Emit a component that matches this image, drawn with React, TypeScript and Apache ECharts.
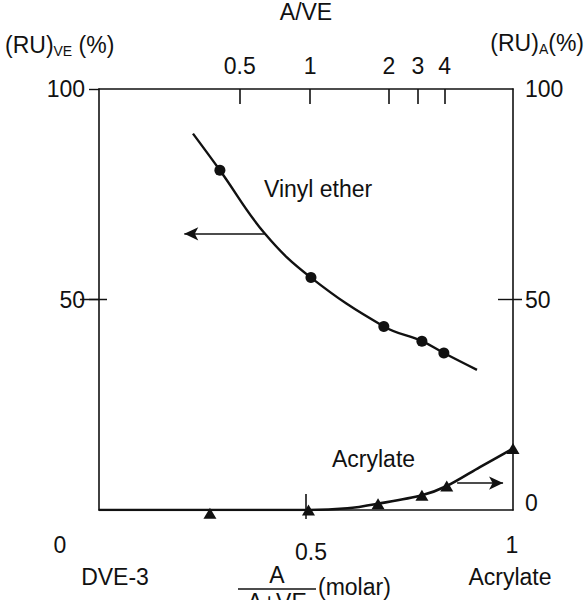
import React, { useEffect, useRef } from "react";
import * as echarts from "echarts";

// Bottom axis: A/(A+VE) molar fraction
const BOTTOM_TICKS = [0, 0.5, 1];
// Top axis: A/VE ratio ticks (positions) and labels
const TOP_TICK_POS = [0.34, 0.51, 0.7, 0.77, 0.835];
const TOP_TICK_LABELS = ["0.5", "1", "2", "3", "4"];
// Left axis (RU)VE %, right axis (RU)A %
const LEFT_TICKS = [50, 100];
const RIGHT_TICKS = [0, 50, 100];

// Vinyl ether measured points
const VE_X = [0.292, 0.512, 0.688, 0.78, 0.833];
const VE_Y = [80.7, 55.2, 43.6, 40.1, 37.3];
// Vinyl ether drawn curve
const VE_CURVE_X = [0.227, 0.292, 0.401, 0.512, 0.688, 0.78, 0.833, 0.913];
const VE_CURVE_Y = [89.4, 80.7, 65.6, 55.2, 43.6, 40.1, 37.3, 33.3];

// Acrylate measured points
const ACR_X = [0.268, 0.506, 0.674, 0.78, 0.84, 1.0];
const ACR_Y = [-0.8, 0, 1.5, 3.5, 5.7, 14.6];
// Acrylate drawn curve
const ACR_CURVE_X = [0, 0.268, 0.506, 0.6, 0.674, 0.78, 0.84, 0.92, 1.0];
const ACR_CURVE_Y = [0, 0, 0, 0.4, 1.5, 3.5, 5.7, 10.2, 14.6];

// Arrows pointing at each series' axis
const VE_ARROW = [[0.4, 65.6], [0.206, 65.6]];
const ACR_ARROW = [[0.865, 6.4], [0.976, 6.4]];

// Ticks that cross an axis: [x, y, kind] (0 bottom, 1 left, 2 right)
const CROSS_TICKS = [[0.5, 0, 0], [0, 50, 1], [1, 50, 2]];

const FONT = "'Liberation Sans', Arial, Helvetica, sans-serif";
const INK = "#111";
const FS = 23;

export default function App() {
  const ref = useRef<HTMLDivElement>(null);

  useEffect(() => {
    if (!ref.current) return;
    const chart = echarts.init(ref.current, undefined, { renderer: "svg" });

    const zip = (xs: number[], ys: number[]) => xs.map((x, i) => [x, ys[i]]);
    const txt = { fontFamily: FONT, fontSize: FS, color: INK };
    const gtxt = { fontFamily: FONT, fontSize: FS, fill: INK };

    const option: any = {
      animation: false,
      backgroundColor: "#fff",
      grid: {
        left: 99,
        right: 71,
        top: 89,
        bottom: 90,
        containLabel: false,
        outerBoundsMode: "none",
      },
      xAxis: [
        {
          type: "value",
          position: "bottom",
          min: 0,
          max: 1,
          interval: 0.5,
          axisLine: { onZero: false, lineStyle: { color: INK, width: 1.6 } },
          axisTick: { show: true, inside: true, length: 16, customValues: [0.5], lineStyle: { color: INK, width: 1.6 } },
          axisLabel: { show: false },
          splitLine: { show: false },
        },
        {
          type: "value",
          position: "top",
          min: 0,
          max: 1,
          name: "A/VE",
          nameLocation: "middle",
          nameGap: 66,
          nameTextStyle: { ...txt },
          axisLine: { onZero: false, lineStyle: { color: INK, width: 1.6 } },
          axisTick: { show: true, inside: true, length: 15, customValues: TOP_TICK_POS, lineStyle: { color: INK, width: 1.6 } },
          axisLabel: {
            show: true,
            margin: 12,
            customValues: TOP_TICK_POS,
            formatter: (v: number) => {
              const i = TOP_TICK_POS.findIndex((p) => Math.abs(p - v) < 1e-6);
              return i >= 0 ? TOP_TICK_LABELS[i] : "";
            },
            ...txt,
          },
          splitLine: { show: false },
        },
      ],
      yAxis: [
        {
          type: "value",
          position: "left",
          min: 0,
          max: 100,
          interval: 50,
          axisLine: { show: true, onZero: false, lineStyle: { color: INK, width: 1.6 } },
          axisTick: { show: true, inside: false, length: 10, customValues: LEFT_TICKS, lineStyle: { color: INK, width: 1.4 } },
          axisLabel: { show: true, margin: 14, customValues: LEFT_TICKS, ...txt },
          splitLine: { show: false },
        },
        {
          type: "value",
          position: "right",
          min: 0,
          max: 100,
          interval: 50,
          axisLine: { show: true, onZero: false, lineStyle: { color: INK, width: 1.6 } },
          axisTick: { show: true, inside: true, length: 15, customValues: [50], lineStyle: { color: INK, width: 1.4 } },
          axisLabel: {
            show: true,
            margin: 12,
            customValues: RIGHT_TICKS,
            formatter: (v: number) => (v === 0 ? "{z|0}" : String(v)),
            rich: { z: { ...txt, padding: [0, 0, 14, 0] } },
            ...txt,
          },
          splitLine: { show: false },
        },
      ],
      series: [
        {
          name: "Vinyl ether curve",
          type: "line",
          xAxisIndex: 0,
          yAxisIndex: 0,
          data: zip(VE_CURVE_X, VE_CURVE_Y),
          smooth: 0.4,
          showSymbol: false,
          symbol: "none",
          lineStyle: { color: INK, width: 2.4 },
          markLine: {
            silent: true,
            symbol: ["none", "arrow"],
            symbolSize: [10, 14],
            label: { show: false },
            lineStyle: { color: INK, width: 1.5, type: "solid" },
            data: [[{ coord: VE_ARROW[0] }, { coord: VE_ARROW[1] }]],
          },
        },
        {
          name: "Vinyl ether",
          type: "scatter",
          xAxisIndex: 0,
          yAxisIndex: 0,
          data: zip(VE_X, VE_Y),
          symbol: "circle",
          symbolSize: 11,
          itemStyle: { color: INK, opacity: 1 },
        },
        {
          name: "Acrylate curve",
          type: "line",
          xAxisIndex: 0,
          yAxisIndex: 1,
          data: zip(ACR_CURVE_X, ACR_CURVE_Y),
          smooth: 0.3,
          showSymbol: false,
          symbol: "none",
          lineStyle: { color: INK, width: 2.6 },
          markLine: {
            silent: true,
            symbol: ["none", "arrow"],
            symbolSize: [10, 14],
            label: { show: false },
            lineStyle: { color: INK, width: 1.5, type: "solid" },
            data: [[{ coord: ACR_ARROW[0] }, { coord: ACR_ARROW[1] }]],
          },
        },
        {
          name: "Acrylate",
          type: "scatter",
          xAxisIndex: 0,
          yAxisIndex: 1,
          clip: false,
          data: zip(ACR_X, ACR_Y),
          symbol: "triangle",
          symbolSize: [13, 11],
          itemStyle: { color: INK, opacity: 1 },
        },
        {
          name: "cross ticks",
          type: "custom",
          xAxisIndex: 0,
          yAxisIndex: 0,
          clip: false,
          silent: true,
          data: CROSS_TICKS,
          renderItem: (params: any, api: any) => {
            const p = api.coord([api.value(0), api.value(1)]);
            const k = api.value(2);
            let shape;
            if (k === 0) shape = { x1: p[0], y1: p[1], x2: p[0], y2: p[1] + 9 };
            else if (k === 1) shape = { x1: p[0] - 19, y1: p[1], x2: p[0] + 8, y2: p[1] };
            else shape = { x1: p[0], y1: p[1], x2: p[0] + 9, y2: p[1] };
            return { type: "line", shape, style: { stroke: INK, lineWidth: 1.5 } };
          },
        },
      ],
      graphic: [
        {
          type: "text",
          left: 5,
          top: 33,
          style: {
            text: "{b|(RU)}{s|VE}{b| (%)}",
            rich: {
              b: { ...gtxt, lineHeight: 28 },
              s: { fontFamily: FONT, fontSize: 14, fill: INK, padding: [12, 0, 0, 0] },
            },
          },
        },
        {
          type: "text",
          right: 0,
          top: 31,
          style: {
            text: "{b|(RU)}{s|A}{b|(%)}",
            rich: {
              b: { ...gtxt, lineHeight: 28 },
              s: { fontFamily: FONT, fontSize: 14, fill: INK, padding: [12, 0, 0, 0] },
            },
          },
        },
        { type: "text", x: 264, y: 189, style: { ...gtxt, text: "Vinyl ether", verticalAlign: "middle" } },
        { type: "text", x: 332, y: 459, style: { ...gtxt, text: "Acrylate", verticalAlign: "middle" } },
        { type: "text", x: 60, y: 545, style: { ...gtxt, text: String(BOTTOM_TICKS[0]), align: "center", verticalAlign: "middle" } },
        { type: "text", x: 311, y: 552, style: { ...gtxt, text: String(BOTTOM_TICKS[1]), align: "center", verticalAlign: "middle" } },
        { type: "text", x: 512, y: 545, style: { ...gtxt, text: String(BOTTOM_TICKS[2]), align: "center", verticalAlign: "middle" } },
        { type: "text", x: 115, y: 577, style: { ...gtxt, text: "DVE-3", align: "center", verticalAlign: "middle" } },
        { type: "text", x: 510, y: 577, style: { ...gtxt, text: "Acrylate", align: "center", verticalAlign: "middle" } },
        { type: "text", x: 277, y: 575, style: { ...gtxt, text: "A", align: "center", verticalAlign: "middle" } },
        { type: "line", shape: { x1: 238, y1: 589, x2: 316, y2: 589 }, style: { stroke: INK, lineWidth: 1.6 } },
        { type: "text", x: 277, y: 590, style: { ...gtxt, text: "A+VE", align: "center", verticalAlign: "top" } },
        { type: "text", x: 318, y: 587, style: { ...gtxt, text: "(molar)", align: "left", verticalAlign: "middle" } },
      ],
    };

    chart.setOption(option);
    return () => chart.dispose();
  }, []);

  return (
    <div
      ref={ref}
      style={{ position: "fixed", left: 0, top: 0, width: 584, height: 600, background: "#fff" }}
    />
  );
}
